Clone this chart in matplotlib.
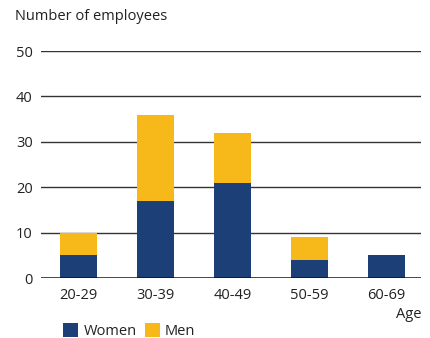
import matplotlib.pyplot as plt
import numpy as np

plt.rcParams["font.family"] = ["Open Sans", "DejaVu Sans"]

ages = ["20-29", "30-39", "40-49", "50-59", "60-69"]
women = [5, 17, 21, 4, 5]
men = [5, 19, 11, 5, 0]

navy = "#1d3f78"
gold = "#f6b919"

fig = plt.figure(figsize=(4.3, 3.38), dpi=100)
ax = fig.add_axes([0.0953, 0.1775, 0.8837, 0.6715])

x = np.arange(len(ages))
ax.bar(x, women, width=0.48, color=navy, label="Women", zorder=3)
ax.bar(x, men, width=0.48, bottom=women, color=gold, label="Men", zorder=3)

for v in [10, 20, 30, 40, 50]:
    ax.axhline(v, color="#333333", lw=1.0, zorder=1)
ax.axhline(0, color="#111111", lw=1.8, zorder=4)

ax.set_xlim(-0.49, 4.45)
ax.set_ylim(0, 50)
ax.set_xticks(x)
ax.set_xticklabels(ages)
ax.set_yticks([0, 10, 20, 30, 40, 50])
ax.tick_params(length=0, labelsize=10.5, colors="#222222", pad=6)
ax.tick_params(axis="x", pad=7)
for s in ax.spines.values():
    s.set_visible(False)

fig.text(15 / 430, 1 - 17 / 338, "Number of employees", fontsize=10.5,
         color="#222222", va="center", ha="left")
fig.text(421 / 430, 1 - 314 / 338, "Age", fontsize=10.5, color="#222222",
         va="center", ha="right")

fig.legend(loc="center left", bbox_to_anchor=(50 / 430, 1 - 331 / 338),
           ncol=2, frameon=False, fontsize=10.5, handlelength=1.05,
           handleheight=1.05, handletextpad=0.35, columnspacing=0.55,
           labelcolor="#222222")

fig.savefig("out.png", dpi=100)
